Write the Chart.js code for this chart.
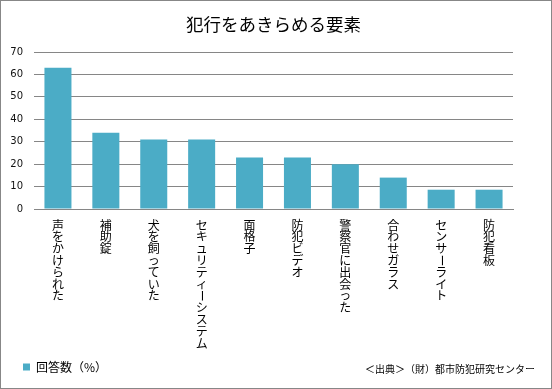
<!DOCTYPE html>
<html>
<head>
<meta charset="utf-8">
<title>犯行をあきらめる要素</title>
<script src="https://cdn.jsdelivr.net/npm/chart.js"></script>
<style>
    html, body { margin: 0; padding: 0; background: #fff; }
    canvas { display: block; }
</style>
</head>
<body>
<canvas id="chart" width="552" height="389"></canvas>

<script>
    const categories = [
        '声をかけられた', '補助錠', '犬を飼っていた', 'セキュリティーシステム', '面格子',
        '防犯ビデオ', '警察官に出会った', '合わせガラス', 'センサーライト', '防犯看板'
    ];
    const answerRate = [63, 34, 31, 31, 23, 23, 20, 14, 8.6, 8.6];
    const yTicks = [0, 10, 20, 30, 40, 50, 60, 70];
    const chartTitle = '犯行をあきらめる要素';
    const seriesName = '回答数（%）';
    const sourceNote = '＜出典＞（財）都市防犯研究センター';

    const jpFont = '"Noto Sans CJK JP", "Noto Sans", sans-serif';

    // vertical (tategaki) category labels, frame and source note
    const extras = {
        id: 'extras',
        afterDraw(chart) {
            const ctx = chart.ctx;
            const xScale = chart.scales.x;
            ctx.save();
            ctx.fillStyle = '#000';
            ctx.font = '12px ' + jpFont;
            ctx.textAlign = 'center';
            ctx.textBaseline = 'middle';
            categories.forEach((label, i) => {
                const cx = xScale.getPixelForTick(i);
                let cy = xScale.top + 16;
                for (const ch of label) {
                    if (ch === 'ー') {
                        ctx.save();
                        ctx.translate(cx, cy);
                        ctx.rotate(Math.PI / 2);
                        ctx.fillText(ch, 0, 0);
                        ctx.restore();
                    } else {
                        ctx.fillText(ch, cx, cy);
                    }
                    cy += 11.8;
                }
            });

            ctx.font = '10px ' + jpFont;
            ctx.textAlign = 'right';
            ctx.fillText(sourceNote, 535, 369);

            ctx.strokeStyle = '#878787';
            ctx.lineWidth = 1;
            ctx.strokeRect(0.5, 0.5, chart.width - 1, chart.height - 1);
            ctx.restore();
        }
    };

    new Chart(document.getElementById('chart'), {
        type: 'bar',
        data: {
            labels: categories,
            datasets: [{
                label: seriesName,
                data: answerRate,
                backgroundColor: '#4BACC6',
                barPercentage: 0.564,
                categoryPercentage: 1.0
            }]
        },
        options: {
            responsive: false,
            animation: false,
            layout: { padding: { left: 0, right: 39, top: 0, bottom: 6 } },
            scales: {
                x: {
                    grid: { display: false },
                    border: { color: '#868686' },
                    ticks: {
                        color: 'rgba(0,0,0,0)',
                        maxRotation: 0,
                        autoSkip: false
                    },
                    afterFit(scale) { scale.height = 129; }
                },
                y: {
                    min: 0,
                    max: 70,
                    border: { display: false },
                    grid: { color: '#868686', drawTicks: false },
                    afterBuildTicks(scale) {
                        scale.ticks = yTicks.map(v => ({ value: v }));
                    },
                    ticks: {
                        padding: 11,
                        color: '#111',
                        font: { family: '"DejaVu Sans", sans-serif', size: 10 }
                    },
                    afterFit(scale) { scale.width = 34; }
                }
            },
            plugins: {
                title: {
                    display: true,
                    fullSize: false,
                    text: chartTitle,
                    color: '#000',
                    font: { family: jpFont, size: 17.5, weight: 'normal' },
                    padding: { top: 14, bottom: 17 }
                },
                legend: {
                    position: 'bottom',
                    align: 'start',
                    labels: {
                        boxWidth: 7,
                        boxHeight: 7,
                        padding: 23,
                        color: '#000',
                        font: { family: jpFont, size: 12 }
                    }
                },
                tooltip: { enabled: false }
            }
        },
        plugins: [extras]
    });
</script>
</body>
</html>
